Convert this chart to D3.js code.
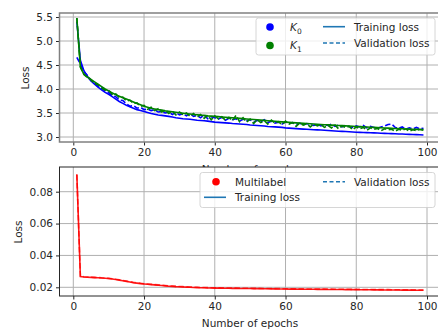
<!doctype html>
<html>
<head>
<meta charset="UTF-8">
<title>loss curves</title>
<script src="https://d3js.org/d3.v7.min.js"></script>
<style>
  body { margin: 0; background: #fff; }
  text { font-family: "DejaVu Sans", sans-serif; fill: #262626; }
</style>
</head>
<body>
<svg id="chart" width="438" height="334"></svg>
<script>
// epochs 1..99
var epochs = d3.range(1, 100);

var trainK0 = [5.40, 4.60, 4.38, 4.26, 4.17, 4.10, 4.04, 3.98, 3.93, 3.89,
  3.84, 3.79, 3.74, 3.70, 3.66, 3.63, 3.60, 3.57, 3.55, 3.53,
  3.51, 3.49, 3.475, 3.46, 3.45, 3.44, 3.43, 3.415, 3.40, 3.39,
  3.38, 3.375, 3.37, 3.36, 3.35, 3.345, 3.34, 3.33, 3.32, 3.31,
  3.305, 3.30, 3.295, 3.29, 3.28, 3.275, 3.27, 3.265, 3.26, 3.25,
  3.245, 3.24, 3.235, 3.23, 3.22, 3.215, 3.21, 3.205, 3.20, 3.19,
  3.185, 3.18, 3.175, 3.17, 3.165, 3.16, 3.155, 3.15, 3.148, 3.145,
  3.14, 3.135, 3.13, 3.125, 3.12, 3.117, 3.113, 3.11, 3.105, 3.10,
  3.097, 3.094, 3.091, 3.088, 3.085, 3.082, 3.079, 3.076, 3.073, 3.07,
  3.067, 3.064, 3.061, 3.058, 3.055, 3.052, 3.049, 3.046, 3.043];

var valK0 = [4.66, 4.52, 4.36, 4.28, 4.18, 4.13, 4.05, 4.02, 3.95, 3.93,
  3.86, 3.84, 3.77, 3.76, 3.69, 3.64, 3.66, 3.60, 3.62, 3.57,
  3.58, 3.55, 3.57, 3.52, 3.53, 3.50, 3.52, 3.47, 3.51, 3.46,
  3.48, 3.44, 3.49, 3.43, 3.45, 3.40, 3.46, 3.38, 3.42, 3.40,
  3.37, 3.41, 3.35, 3.39, 3.36, 3.38, 3.33, 3.37, 3.34, 3.36,
  3.31, 3.35, 3.32, 3.36, 3.30, 3.33, 3.29, 3.31, 3.27, 3.31,
  3.28, 3.30, 3.26, 3.29, 3.25, 3.28, 3.26, 3.24, 3.27, 3.23,
  3.26, 3.24, 3.27, 3.22, 3.25, 3.21, 3.24, 3.22, 3.20, 3.23,
  3.21, 3.24, 3.19, 3.22, 3.20, 3.18, 3.21, 3.23, 3.26, 3.27,
  3.20, 3.18, 3.21, 3.16, 3.19, 3.17, 3.20, 3.17, 3.18];

var trainK1 = [5.48, 4.45, 4.31, 4.25, 4.20, 4.15, 4.10, 4.05, 4.00, 3.96,
  3.92, 3.88, 3.85, 3.82, 3.79, 3.76, 3.73, 3.70, 3.67, 3.64,
  3.62, 3.60, 3.585, 3.57, 3.56, 3.545, 3.535, 3.525, 3.515, 3.505,
  3.495, 3.485, 3.48, 3.47, 3.465, 3.455, 3.45, 3.44, 3.435, 3.43,
  3.424, 3.418, 3.412, 3.406, 3.40, 3.394, 3.388, 3.382, 3.376, 3.37,
  3.364, 3.358, 3.352, 3.346, 3.34, 3.334, 3.328, 3.322, 3.316, 3.31,
  3.305, 3.30, 3.295, 3.29, 3.285, 3.28, 3.275, 3.27, 3.265, 3.26,
  3.256, 3.252, 3.248, 3.244, 3.24, 3.236, 3.232, 3.228, 3.224, 3.22,
  3.216, 3.212, 3.208, 3.204, 3.20, 3.196, 3.192, 3.188, 3.184, 3.18,
  3.177, 3.174, 3.171, 3.168, 3.165, 3.162, 3.159, 3.156, 3.153];

var valK1 = [5.48, 4.47, 4.30, 4.24, 4.19, 4.11, 4.09, 4.02, 3.98, 3.97,
  3.89, 3.90, 3.82, 3.83, 3.75, 3.77, 3.70, 3.71, 3.64, 3.66,
  3.58, 3.62, 3.55, 3.59, 3.52, 3.56, 3.49, 3.54, 3.46, 3.52,
  3.47, 3.50, 3.43, 3.49, 3.42, 3.47, 3.39, 3.45, 3.36, 3.44,
  3.38, 3.42, 3.35, 3.41, 3.34, 3.45, 3.32, 3.40, 3.31, 3.37,
  3.28, 3.36, 3.30, 3.34, 3.27, 3.35, 3.29, 3.32, 3.26, 3.33,
  3.27, 3.30, 3.22, 3.29, 3.25, 3.28, 3.21, 3.27, 3.23, 3.26,
  3.20, 3.24, 3.19, 3.25, 3.17, 3.23, 3.20, 3.22, 3.15, 3.21,
  3.17, 3.20, 3.14, 3.19, 3.16, 3.18, 3.13, 3.17, 3.15, 3.16,
  3.12, 3.16, 3.14, 3.17, 3.12, 3.15, 3.13, 3.16, 3.14];

var trainMulti = [0.0910, 0.0268, 0.0265, 0.0263, 0.0262, 0.0261, 0.0260, 0.0258, 0.0257, 0.0255,
  0.0252, 0.0249, 0.0245, 0.0241, 0.0237, 0.0233, 0.0229, 0.0226, 0.0223, 0.0221,
  0.0219, 0.0217, 0.0215, 0.0213, 0.0211, 0.0209, 0.0207, 0.0206, 0.0204, 0.0203,
  0.0202, 0.0201, 0.0200, 0.0199, 0.0198, 0.0197, 0.0197, 0.0196, 0.0196, 0.0195,
  0.01947, 0.01944, 0.01941, 0.01938, 0.01935, 0.01932, 0.01929, 0.01926, 0.01923, 0.0192,
  0.01917, 0.01914, 0.01911, 0.01908, 0.01905, 0.01902, 0.01899, 0.01896, 0.01893, 0.0189,
  0.01888, 0.01886, 0.01884, 0.01882, 0.0188, 0.01878, 0.01876, 0.01874, 0.01872, 0.0187,
  0.01868, 0.01866, 0.01864, 0.01862, 0.0186, 0.01858, 0.01856, 0.01854, 0.01852, 0.0185,
  0.01848, 0.01846, 0.01844, 0.01842, 0.0184, 0.01838, 0.01836, 0.01834, 0.01832, 0.0183,
  0.01828, 0.01826, 0.01824, 0.01822, 0.0182, 0.01818, 0.01816, 0.01814, 0.01812];

var valMulti = [0.0905, 0.0270, 0.0266, 0.0265, 0.0263, 0.0262, 0.0261, 0.0260, 0.0258, 0.0256,
  0.0254, 0.0250, 0.0247, 0.0243, 0.0239, 0.0235, 0.0231, 0.0228, 0.0225, 0.0222,
  0.0221, 0.0219, 0.0217, 0.0215, 0.0213, 0.0211, 0.0209, 0.0208, 0.0206, 0.0205,
  0.0204, 0.0203, 0.0202, 0.0201, 0.0200, 0.0199, 0.0199, 0.0198, 0.0197, 0.0197,
  0.01966, 0.01962, 0.01960, 0.01955, 0.01953, 0.01950, 0.01946, 0.01944, 0.01940, 0.01938,
  0.01935, 0.01932, 0.01930, 0.01926, 0.01924, 0.01921, 0.01918, 0.01916, 0.01912, 0.0191,
  0.01908, 0.01906, 0.01903, 0.01902, 0.019, 0.01897, 0.01896, 0.01893, 0.01892, 0.0189,
  0.01887, 0.01886, 0.01883, 0.01882, 0.0188, 0.01877, 0.01876, 0.01873, 0.01872, 0.0187,
  0.01867, 0.01866, 0.01863, 0.01862, 0.0186, 0.01857, 0.01856, 0.01853, 0.01852, 0.0185,
  0.01847, 0.01846, 0.01843, 0.01842, 0.0184, 0.01837, 0.01836, 0.01833, 0.01832];

var xTicks = [0, 20, 40, 60, 80, 100];
var yTicksTop = [3.0, 3.5, 4.0, 4.5, 5.0, 5.5];
var yTicksBottom = [0.02, 0.04, 0.06, 0.08];

var svg = d3.select("#chart");
var x = d3.scaleLinear().domain([0, 100]).range([73.3, 427]);
var boxLeft = 59.5, boxRight = 441;

function panel(id, top, bottom, y, yTicks, yFmt) {
  var g = svg.append("g").attr("id", id);
  g.append("rect").attr("x", boxLeft).attr("y", top)
    .attr("width", boxRight - boxLeft).attr("height", bottom - top).attr("fill", "#fff");
  // grid
  g.selectAll(".gx").data(xTicks).enter().append("line")
    .attr("x1", function (d) { return x(d); }).attr("x2", function (d) { return x(d); })
    .attr("y1", top).attr("y2", bottom)
    .attr("stroke", "#b0b0b0").attr("stroke-width", 1);
  g.selectAll(".gy").data(yTicks).enter().append("line")
    .attr("x1", boxLeft).attr("x2", boxRight)
    .attr("y1", function (d) { return y(d); }).attr("y2", function (d) { return y(d); })
    .attr("stroke", "#b0b0b0").attr("stroke-width", 1);
  g.append("clipPath").attr("id", id + "clip").append("rect")
    .attr("x", boxLeft).attr("y", top).attr("width", boxRight - boxLeft).attr("height", bottom - top);
  // axes
  var xa = g.append("g").attr("transform", "translate(0," + bottom + ")")
    .call(d3.axisBottom(x).tickValues(xTicks).tickFormat(d3.format("d")).tickSize(3.5).tickPadding(3));
  var ya = g.append("g").attr("transform", "translate(" + boxLeft + ",0)")
    .call(d3.axisLeft(y).tickValues(yTicks).tickFormat(yFmt).tickSize(3.5).tickPadding(3));
  [xa, ya].forEach(function (a) {
    a.select(".domain").remove();
    a.selectAll("line").attr("stroke", "#262626");
    a.selectAll("text").style("font-family", "DejaVu Sans, sans-serif").style("font-size", "10.5px").attr("fill", "#262626");
  });
  return g;
}

function spines(g, top, bottom, color, w) {
  g.append("rect").attr("x", boxLeft).attr("y", top)
    .attr("width", boxRight - boxLeft).attr("height", bottom - top)
    .attr("fill", "none").attr("stroke", color).attr("stroke-width", w);
}

function drawLine(g, id, values, y, color, dash, op) {
  var line = d3.line().x(function (d, i) { return x(epochs[i]); }).y(function (d) { return y(d); });
  g.append("path").datum(values).attr("d", line)
    .attr("clip-path", "url(#" + id + "clip)")
    .attr("fill", "none").attr("stroke", color).attr("stroke-width", 1.6)
    .attr("stroke-dasharray", dash ? "5.5,2.5" : null)
    .attr("stroke-opacity", op || 1);
}

// ---- top panel
var yTop = d3.scaleLinear().domain([3.0, 5.5]).range([137, 17]);
var gTop = panel("top", 13, 142, yTop, yTicksTop, d3.format(".1f"));
drawLine(gTop, "top", trainK0, yTop, "#0000ff", false);
drawLine(gTop, "top", valK0, yTop, "#0000ff", true);
drawLine(gTop, "top", trainK1, yTop, "#008000", false);
drawLine(gTop, "top", valK1, yTop, "#008000", true);
spines(gTop, 13, 142, "#808080", 1.5);

svg.append("text").attr("transform", "translate(29,78) rotate(-90)")
  .attr("text-anchor", "middle").style("font-size", "10.5px").text("Loss");
// this label sits under the lower panel, only its top shows
svg.append("text").attr("x", 250).attr("y", 173)
  .attr("text-anchor", "middle").style("font-size", "10.5px").text("Number of epochs");

// top legend
var lg = svg.append("g");
lg.append("rect").attr("x", 256).attr("y", 18).attr("width", 179).attr("height", 37).attr("rx", 2.5)
  .attr("fill", "#fff").attr("fill-opacity", 0.8).attr("stroke", "#cccccc").attr("stroke-width", 0.8);
var topKeys = [{ c: "#0000ff", sub: "0", cy: 27 }, { c: "#008000", sub: "1", cy: 45.5 }];
topKeys.forEach(function (k) {
  lg.append("circle").attr("cx", 270).attr("cy", k.cy).attr("r", 3.8).attr("fill", k.c);
  var t = lg.append("text").attr("x", 290).attr("y", k.cy + 3.5).style("font-size", "10.5px").style("font-style", "italic");
  t.append("tspan").text("K");
  t.append("tspan").attr("dy", 3).style("font-size", "7.5px").style("font-style", "normal").text(k.sub);
});
var topLines = [{ t: "Training loss", dash: false, cy: 26.7 }, { t: "Validation loss", dash: true, cy: 43 }];
topLines.forEach(function (k) {
  lg.append("line").attr("x1", 323).attr("x2", 345).attr("y1", k.cy).attr("y2", k.cy)
    .attr("stroke", "#1f77b4").attr("stroke-width", 1.6).attr("stroke-dasharray", k.dash ? "4,2.5" : null);
  lg.append("text").attr("x", 354).attr("y", k.cy + 3.8).style("font-size", "10.5px").text(k.t);
});

// ---- bottom panel
var yBot = d3.scaleLinear().domain([0.02, 0.08]).range([287.3, 191.7]);
var gBot = panel("bot", 167, 296, yBot, yTicksBottom, d3.format(".2f"));
drawLine(gBot, "bot", trainMulti, yBot, "#ff0000", false, 0.9);
drawLine(gBot, "bot", valMulti, yBot, "#ff0000", true, 0.7);
spines(gBot, 167, 296, "#262626", 1);

svg.append("text").attr("transform", "translate(22,232) rotate(-90)")
  .attr("text-anchor", "middle").style("font-size", "10.5px").text("Loss");
svg.append("text").attr("x", 250).attr("y", 327)
  .attr("text-anchor", "middle").style("font-size", "10.5px").text("Number of epochs");

// bottom legend
var lb = svg.append("g");
lb.append("rect").attr("x", 200).attr("y", 172.5).attr("width", 235).attr("height", 35).attr("rx", 2.5)
  .attr("fill", "#fff").attr("fill-opacity", 0.8).attr("stroke", "#cccccc").attr("stroke-width", 0.8);
lb.append("circle").attr("cx", 216).attr("cy", 181.7).attr("r", 3.8).attr("fill", "#ff0000");
lb.append("text").attr("x", 235).attr("y", 185.5).style("font-size", "10.5px").text("Multilabel");
lb.append("line").attr("x1", 204).attr("x2", 226).attr("y1", 197.3).attr("y2", 197.3)
  .attr("stroke", "#1f77b4").attr("stroke-width", 1.6);
lb.append("text").attr("x", 235).attr("y", 201.1).style("font-size", "10.5px").text("Training loss");
lb.append("line").attr("x1", 323).attr("x2", 345).attr("y1", 181.7).attr("y2", 181.7)
  .attr("stroke", "#1f77b4").attr("stroke-width", 1.6).attr("stroke-dasharray", "4,2.5");
lb.append("text").attr("x", 354).attr("y", 185.5).style("font-size", "10.5px").text("Validation loss");
</script>
</body>
</html>
